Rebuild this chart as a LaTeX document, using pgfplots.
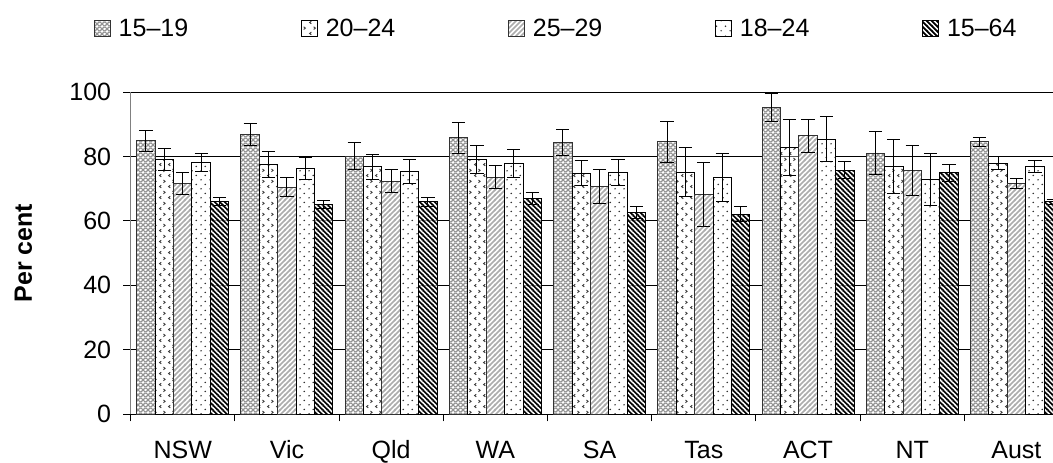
\documentclass[border=0pt]{standalone}
\usepackage{pgfplots}
\pgfplotsset{compat=1.18}
\usepackage{fontspec}
\setmainfont{Liberation Sans}
\usetikzlibrary{patterns.meta}

% 15-19: grey crosshatch
\pgfdeclarepattern{
  name=pA, type=colored,
  bottom left={\pgfpoint{0pt}{0pt}}, top right={\pgfpoint{3.4pt}{3.4pt}},
  tile size={\pgfpoint{3.4pt}{3.4pt}},
  code={
    \pgfsetfillcolor{white}
    \pgfpathrectangle{\pgfpoint{0pt}{0pt}}{\pgfpoint{3.4pt}{3.4pt}}\pgfusepath{fill}
    \pgfsetstrokecolor{gray!85}
    \pgfsetlinewidth{0.95pt}
    \pgfpathmoveto{\pgfpoint{-0.5pt}{-0.5pt}}\pgfpathlineto{\pgfpoint{3.9pt}{3.9pt}}
    \pgfpathmoveto{\pgfpoint{-0.5pt}{3.9pt}}\pgfpathlineto{\pgfpoint{3.9pt}{-0.5pt}}
    \pgfusepath{stroke}
  }
}
% 20-24: white with chevrons
\pgfdeclarepattern{
  name=pB, type=colored,
  bottom left={\pgfpoint{0pt}{0pt}}, top right={\pgfpoint{7pt}{8pt}},
  tile size={\pgfpoint{7pt}{8pt}},
  code={
    \pgfsetfillcolor{white}
    \pgfpathrectangle{\pgfpoint{0pt}{0pt}}{\pgfpoint{7pt}{8pt}}\pgfusepath{fill}
    \pgfsetstrokecolor{gray!50!black}
    \pgfsetlinewidth{0.75pt}
    \pgfpathmoveto{\pgfpoint{2.6pt}{0.9pt}}\pgfpathlineto{\pgfpoint{1.3pt}{1.9pt}}\pgfpathlineto{\pgfpoint{2.6pt}{2.9pt}}
    \pgfpathmoveto{\pgfpoint{4.4pt}{4.9pt}}\pgfpathlineto{\pgfpoint{5.7pt}{5.9pt}}\pgfpathlineto{\pgfpoint{4.4pt}{6.9pt}}
    \pgfusepath{stroke}
  }
}
% 25-29: grey north-east stripes
\pgfdeclarepattern{
  name=pC, type=colored,
  bottom left={\pgfpoint{0pt}{0pt}}, top right={\pgfpoint{4pt}{4pt}},
  tile size={\pgfpoint{4pt}{4pt}},
  code={
    \pgfsetfillcolor{white}
    \pgfpathrectangle{\pgfpoint{0pt}{0pt}}{\pgfpoint{4pt}{4pt}}\pgfusepath{fill}
    \pgfsetstrokecolor{gray!65}
    \pgfsetlinewidth{1.3pt}
    \pgfpathmoveto{\pgfpoint{-1pt}{-1pt}}\pgfpathlineto{\pgfpoint{5pt}{5pt}}
    \pgfpathmoveto{\pgfpoint{-1pt}{3pt}}\pgfpathlineto{\pgfpoint{1pt}{5pt}}
    \pgfpathmoveto{\pgfpoint{3pt}{-1pt}}\pgfpathlineto{\pgfpoint{5pt}{1pt}}
    \pgfusepath{stroke}
  }
}
% 18-24: white with dots
\pgfdeclarepattern{
  name=pD, type=colored,
  bottom left={\pgfpoint{0pt}{0pt}}, top right={\pgfpoint{6.5pt}{7pt}},
  tile size={\pgfpoint{6.5pt}{7pt}},
  code={
    \pgfsetfillcolor{white}
    \pgfpathrectangle{\pgfpoint{0pt}{0pt}}{\pgfpoint{6.5pt}{7pt}}\pgfusepath{fill}
    \pgfsetfillcolor{gray!40!black}
    \pgfpathcircle{\pgfpoint{1.6pt}{1.75pt}}{0.65pt}
    \pgfpathcircle{\pgfpoint{4.85pt}{5.25pt}}{0.65pt}
    \pgfusepath{fill}
  }
}
% 15-64: black north-west stripes
\pgfdeclarepattern{
  name=pE, type=colored,
  bottom left={\pgfpoint{0pt}{0pt}}, top right={\pgfpoint{4pt}{4pt}},
  tile size={\pgfpoint{4pt}{4pt}},
  code={
    \pgfsetfillcolor{white}
    \pgfpathrectangle{\pgfpoint{0pt}{0pt}}{\pgfpoint{4pt}{4pt}}\pgfusepath{fill}
    \pgfsetstrokecolor{black}
    \pgfsetlinewidth{1.45pt}
    \pgfpathmoveto{\pgfpoint{-1pt}{5pt}}\pgfpathlineto{\pgfpoint{5pt}{-1pt}}
    \pgfpathmoveto{\pgfpoint{-1pt}{1pt}}\pgfpathlineto{\pgfpoint{1pt}{-1pt}}
    \pgfpathmoveto{\pgfpoint{3pt}{5pt}}\pgfpathlineto{\pgfpoint{5pt}{3pt}}
    \pgfusepath{stroke}
  }
}

\pgfplotsset{
  myerr/.style={error bars/.cd, y dir=both, y explicit,
    error bar style={black, line width=0.75pt},
    error mark=-,
    error mark options={rotate=90, black, line width=0.75pt, mark size=5pt}},
}

\begin{document}
\begin{tikzpicture}
\begin{axis}[
  at={(0,0)}, anchor=south west,
  scale only axis,
  width=691.7pt, height=241.3pt,
  xmin=-0.5, xmax=8.351,
  ymin=0, ymax=100,
  ybar, bar width=0.1766,
  axis x line*=bottom, axis y line*=left,
  x axis line style={black, line width=0.75pt, -},
  y axis line style={gray, line width=0.75pt, -},
  ytick={0,20,...,100},
  xtick={0,...,8},
  xticklabels={NSW,Vic,Qld,WA,SA,Tas,ACT,NT,Aust},
  minor xtick={-0.5,0.5,...,7.5},
  tick align=outside,
  major tick length=5.5pt, minor tick length=5.5pt,
  major x tick style={draw=none},
  minor x tick style={black, line width=0.75pt},
  major y tick style={black, line width=0.75pt},
  ymajorgrids, grid style={black, line width=0.75pt},
  tick label style={font=\fontsize{18.75}{22}\selectfont},
  /pgf/number format/assume math mode=true,
  yticklabel style={anchor=east, inner sep=0pt, xshift=-9pt},
  xticklabel style={anchor=base, inner sep=0pt, yshift=-27.75pt},
  ylabel={Per cent},
  every axis y label/.style={at={(axis description cs:-0.107,0.5)}, rotate=90, anchor=base,
     font=\fontsize{18.75}{22}\selectfont\bfseries},
  legend columns=5,
  legend cell align=left,
  legend image code/.code={\draw[#1] (0pt,0pt) rectangle (12pt,12pt);},
  legend style={draw=none, inner sep=0pt, outer sep=0pt,
    at={(axis description cs:0,1)}, anchor=south west, xshift=-27.5pt, yshift=40pt,
    font=\fontsize{18.75}{22}\selectfont,
    nodes={inner sep=0pt, anchor=base west},
    /tikz/every odd column/.append style={column sep=5.8pt},
    /tikz/every even column/.append style={column sep=84.6pt}},
]
\addplot[draw=gray!40!black, line width=0.75pt, pattern=pA, bar shift=-0.3532, myerr]
 coordinates {(0,84.9) +- (0,3.2) (1,86.9) +- (0,3.4) (2,80.1) +- (0,4.2) (3,85.8) +- (0,4.8)
   (4,84.4) +- (0,4.0) (5,84.6) +- (0,6.3) (6,95.2) +- (0,4.3) (7,81.1) +- (0,6.8) (8,84.6) +- (0,1.35)};
\addlegendentry{15–19}
\addplot[draw=black, line width=0.75pt, pattern=pB, bar shift=-0.1766, myerr]
 coordinates {(0,79.0) +- (0,3.4) (1,77.5) +- (0,4.1) (2,76.9) +- (0,3.9) (3,79.2) +- (0,4.3)
   (4,74.9) +- (0,4.0) (5,75.1) +- (0,7.6) (6,82.8) +- (0,8.7) (7,77.0) +- (0,8.4) (8,77.9) +- (0,2.0)};
\addlegendentry{20–24}
\addplot[draw=gray!40!black, line width=0.75pt, pattern=pC, bar shift=0, myerr]
 coordinates {(0,71.6) +- (0,3.5) (1,70.5) +- (0,3.0) (2,72.3) +- (0,3.6) (3,73.6) +- (0,3.5)
   (4,70.7) +- (0,5.2) (5,68.3) +- (0,9.9) (6,86.5) +- (0,5.1) (7,75.7) +- (0,7.8) (8,71.7) +- (0,1.6)};
\addlegendentry{25–29}
\addplot[draw=black, line width=0.75pt, pattern=pD, bar shift=0.1766, myerr]
 coordinates {(0,78.2) +- (0,2.8) (1,76.3) +- (0,3.5) (2,75.4) +- (0,3.7) (3,77.9) +- (0,4.3)
   (4,75.1) +- (0,4.0) (5,73.6) +- (0,7.4) (6,85.4) +- (0,7.0) (7,72.9) +- (0,8.2) (8,76.9) +- (0,1.85)};
\addlegendentry{18–24}
\addplot[draw=black, line width=0.75pt, pattern=pE, bar shift=0.3532, myerr]
 coordinates {(0,66.1) +- (0,1.2) (1,65.2) +- (0,1.2) (2,65.9) +- (0,1.5) (3,67.1) +- (0,1.9)
   (4,62.7) +- (0,1.9) (5,62.1) +- (0,2.3) (6,75.8) +- (0,2.6) (7,75.0) +- (0,2.6) (8,65.9) +- (0,0.8)};
\addlegendentry{15–64}
\end{axis}
\pgfresetboundingbox
\path[use as bounding box] (-98pt,-36pt) rectangle (691.7pt,310.5pt);
\end{tikzpicture}
\end{document}
